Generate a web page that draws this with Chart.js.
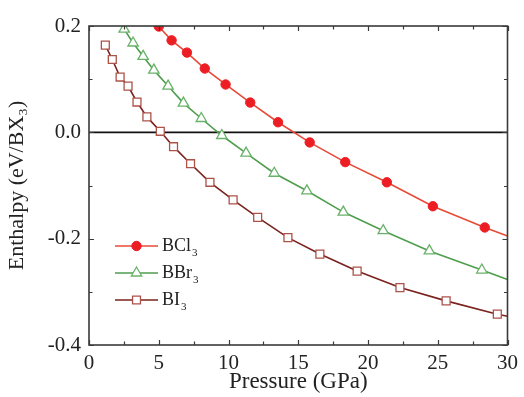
<!DOCTYPE html>
<html><head><meta charset="utf-8">
<script src="https://cdn.jsdelivr.net/npm/chart.js@4.4.1/dist/chart.umd.min.js"></script>
<style>html,body{margin:0;padding:0;background:#fff;}#wrap{width:524px;height:397px;position:relative;}</style>
</head><body><div id="wrap"><canvas id="c" width="524" height="397"></canvas></div>
<script>
// ---- data ----
const seriesLabels = ['BCl\u2083', 'BBr\u2083', 'BI\u2083'];
const legendMain = ['BCl', 'BBr', 'BI'];
const legendSub = ['3', '3', '3'];

const bcl3P = [5.0, 5.92, 7.02, 8.30, 9.79, 11.56, 13.55, 15.82, 18.37, 21.35, 24.65, 28.37, 30.0];
const bcl3H = [0.199, 0.173, 0.150, 0.120, 0.090, 0.056, 0.019, -0.019, -0.056, -0.094, -0.139, -0.179, -0.195];

const bbr3P = [2.52, 3.16, 3.88, 4.65, 5.67, 6.77, 8.05, 9.52, 11.26, 13.28, 15.62, 18.23, 21.09, 24.40, 28.16, 30.0];
const bbr3H = [0.194, 0.168, 0.143, 0.117, 0.087, 0.055, 0.026, -0.006, -0.039, -0.077, -0.110, -0.150, -0.185, -0.223, -0.259, -0.277];

const bi3P = [1.17, 1.67, 2.23, 2.80, 3.44, 4.15, 5.11, 6.06, 7.28, 8.67, 10.33, 12.09, 14.26, 16.55, 19.22, 22.29, 25.60, 29.27, 30.0];
const bi3H = [0.164, 0.137, 0.104, 0.087, 0.057, 0.029, 0.002, -0.027, -0.059, -0.094, -0.127, -0.160, -0.198, -0.229, -0.261, -0.292, -0.317, -0.342, -0.346];

const xTicks = [0, 5, 10, 15, 20, 25, 30];
const xTickLabels = ['0', '5', '10', '15', '20', '25', '30'];
const yTicks = [-0.4, -0.2, 0.0, 0.2];
const yTickLabels = ['-0.4', '-0.2', '0.0', '0.2'];

const xTitle = 'Pressure (GPa)';
const yTitle = 'Enthalpy (eV/BX\u2083)';

// ---- build ----
const FONT = "'Liberation Serif', 'Times New Roman', serif";
function pts(xs, ys) { return xs.map((x, i) => ({ x: x, y: ys[i] })); }
function hideLast(r) { return ctx => (ctx.dataIndex === ctx.dataset.data.length - 1 ? 0 : r); }

const styles = [
  { line: 'rgb(232,74,56)', pFill: 'rgb(236,30,36)', pStroke: 'rgb(236,30,36)', shape: 'circle', r: 4.7, bw: 1 },
  { line: 'rgb(78,158,78)', pFill: '#ffffff', pStroke: 'rgb(105,178,105)', shape: 'triangle', r: 6, bw: 1.3 },
  { line: 'rgb(122,34,30)', pFill: '#ffffff', pStroke: 'rgb(172,82,72)', shape: 'rect', r: 5.6, bw: 1.3 }
];
const series = [pts(bcl3P, bcl3H), pts(bbr3P, bbr3H), pts(bi3P, bi3H)];

const datasets = series.map((d, i) => ({
  label: seriesLabels[i],
  data: d,
  borderColor: styles[i].line,
  borderWidth: 1.6,
  pointStyle: styles[i].shape,
  pointRadius: hideLast(styles[i].r),
  pointHoverRadius: hideLast(styles[i].r),
  pointBackgroundColor: styles[i].pFill,
  pointBorderColor: styles[i].pStroke,
  pointBorderWidth: styles[i].bw,
  showLine: true,
  tension: 0,
  fill: false
}));

function drawMarker(ctx, shape, x, y, r) {
  ctx.beginPath();
  if (shape === 'circle') {
    ctx.arc(x, y, r, 0, Math.PI * 2);
  } else if (shape === 'triangle') {
    const s = r * Math.sqrt(3) / 2;
    ctx.moveTo(x, y - r);
    ctx.lineTo(x + s, y + r / 2);
    ctx.lineTo(x - s, y + r / 2);
    ctx.closePath();
  } else {
    const s = r * Math.SQRT1_2;
    ctx.rect(x - s, y - s, 2 * s, 2 * s);
  }
  ctx.fill();
  ctx.stroke();
}

const framePlugin = {
  id: 'frame',
  beforeDatasetsDraw(chart) {
    const { ctx, chartArea: a, scales: { y } } = chart;
    const y0 = y.getPixelForValue(0);
    ctx.save();
    ctx.strokeStyle = '#111';
    ctx.lineWidth = 1.6;
    ctx.beginPath();
    ctx.moveTo(a.left, y0); ctx.lineTo(a.right, y0);
    ctx.stroke();
    ctx.restore();
  },
  afterDatasetsDraw(chart) {
    const { ctx, chartArea: a, scales: { x, y } } = chart;
    ctx.save();
    ctx.strokeStyle = '#3a3a3a';
    ctx.lineWidth = 1.6;
    ctx.strokeRect(a.left, a.top, a.right - a.left, a.bottom - a.top);
    ctx.lineWidth = 1.2;
    const xs = [];
    xTicks.forEach((v, i) => { xs.push([v, 5]); if (i < xTicks.length - 1) xs.push([(v + xTicks[i + 1]) / 2, 3.5]); });
    xs.forEach(([v, len]) => {
      const px = Math.round(x.getPixelForValue(v)) + 0.5;
      ctx.beginPath();
      ctx.moveTo(px, a.bottom); ctx.lineTo(px, a.bottom - len);
      ctx.moveTo(px, a.top); ctx.lineTo(px, a.top + len);
      ctx.stroke();
    });
    const ys = [];
    yTicks.forEach((v, i) => { ys.push([v, 5]); if (i < yTicks.length - 1) ys.push([(v + yTicks[i + 1]) / 2, 3.5]); });
    ys.forEach(([v, len]) => {
      const py = Math.round(y.getPixelForValue(v)) + 0.5;
      ctx.beginPath();
      ctx.moveTo(a.left, py); ctx.lineTo(a.left + len, py);
      ctx.moveTo(a.right, py); ctx.lineTo(a.right - len, py);
      ctx.stroke();
    });
    ctx.restore();
  },
  afterDraw(chart) {
    const { ctx, chartArea: a } = chart;
    ctx.save();
    const x1 = a.left + 26, x2 = a.left + 69, xm = (x1 + x2) / 2;
    const rowY = [a.top + 220, a.top + 247, a.top + 274];
    chart.data.datasets.forEach((ds, i) => {
      const st = styles[i];
      const yy = rowY[i];
      ctx.strokeStyle = st.line;
      ctx.lineWidth = 1.6;
      ctx.beginPath(); ctx.moveTo(x1, yy); ctx.lineTo(x2, yy); ctx.stroke();
      ctx.fillStyle = st.pFill;
      ctx.strokeStyle = st.pStroke;
      ctx.lineWidth = st.bw;
      drawMarker(ctx, st.shape, xm, yy, st.r);
      ctx.fillStyle = '#222';
      ctx.textBaseline = 'middle';
      ctx.textAlign = 'left';
      ctx.font = '18px ' + FONT;
      const tx = x2 + 4;
      ctx.fillText(legendMain[i], tx, yy);
      const w = ctx.measureText(legendMain[i]).width;
      ctx.font = '11px ' + FONT;
      ctx.fillText(legendSub[i], tx + w + 1, yy + 7);
    });
    ctx.restore();
  }
};

Chart.defaults.font.family = FONT;
Chart.defaults.color = '#222';

new Chart(document.getElementById('c'), {
  type: 'line',
  data: { datasets: datasets },
  options: {
    responsive: false,
    animation: false,
    devicePixelRatio: 1,
    layout: { padding: { top: 26, right: 12, left: 0, bottom: 0 } },
    plugins: { legend: { display: false }, tooltip: { enabled: false } },
    scales: {
      x: {
        type: 'linear', min: 0, max: 30,
        afterBuildTicks: s => { s.ticks = xTicks.map(v => ({ value: v })); },
        afterFit: s => { s.height = 52; },
        grid: { display: false, drawTicks: false },
        border: { display: false },
        ticks: {
          padding: 6, maxRotation: 0, autoSkip: false,
          font: { size: 21 }, color: '#222',
          callback: (v) => xTickLabels[xTicks.indexOf(v)]
        },
        title: { display: true, text: xTitle, font: { size: 23 }, color: '#222', padding: { top: 0, bottom: 1 } }
      },
      y: {
        type: 'linear', min: -0.4, max: 0.2,
        afterBuildTicks: s => { s.ticks = yTicks.map(v => ({ value: v })); },
        afterFit: s => { s.width = 89; },
        grid: { display: false, drawTicks: false },
        border: { display: false },
        ticks: {
          padding: 8, autoSkip: false,
          font: { size: 21 }, color: '#222',
          callback: (v) => { const i = yTicks.findIndex(t => Math.abs(t - v) < 1e-9); return yTickLabels[i]; }
        },
        title: { display: true, text: yTitle, font: { size: 22 }, color: '#222', padding: { top: 4, bottom: 0 } }
      }
    }
  },
  plugins: [framePlugin]
});
</script>
</body></html>
